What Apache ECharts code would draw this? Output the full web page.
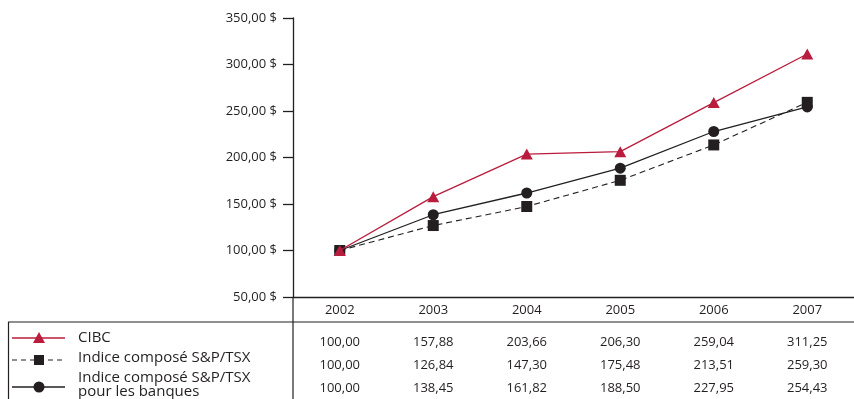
<!DOCTYPE html>
<html><head><meta charset="utf-8">
<script src="https://cdn.jsdelivr.net/npm/echarts@6/dist/echarts.min.js"></script>
<style>html,body{margin:0;padding:0;background:#fff}#c{width:854px;height:399px}</style>
</head><body><div id="c"></div>
<script>
const years = ['2002','2003','2004','2005','2006','2007'];
const cibc = [100.00,157.88,203.66,206.30,259.04,311.25];
const tsx = [100.00,126.84,147.30,175.48,213.51,259.30];
const banks = [100.00,138.45,161.82,188.50,227.95,254.43];
const names = ['CIBC','Indice composé S&P/TSX','Indice composé S&P/TSX\npour les banques'];

const RED = '#b91c3c', BLK = '#231f20', FONT = '"Open Sans", sans-serif';
const fmt = v => v.toFixed(2).replace('.', ',');
const chart = echarts.init(document.getElementById('c'));

function rowAxis(vals, off) {
  return {type:'category', data: vals.map(fmt), position:'bottom', offset: off, gridIndex:0,
    axisLine:{show:false}, axisTick:{show:false}, splitLine:{show:false},
    axisLabel:{margin:7, fontSize:13, color:BLK, fontFamily:FONT}};
}

chart.setOption({
  animation:false,
  grid:{left:293, top:18, width:564, bottom:102},
  xAxis:[
    {type:'category', data:years, boundaryGap:true,
     axisLine:{lineStyle:{color:BLK, width:1.3}}, axisTick:{show:false},
     axisLabel:{margin:7, fontSize:13, color:BLK, fontFamily:FONT}},
    rowAxis(cibc, 32), rowAxis(tsx, 55), rowAxis(banks, 78)
  ],
  yAxis:{type:'value', min:50, max:350, interval:50,
    axisLine:{show:true, lineStyle:{color:BLK, width:1.3}},
    axisTick:{show:true, length:10, lineStyle:{color:BLK, width:1.3}},
    splitLine:{show:false},
    axisLabel:{margin:16, fontSize:13, color:BLK, fontFamily:FONT, formatter: v => fmt(v) + ' $'}},
  series:[
    {name:names[1], type:'line', data:tsx, xAxisIndex:0, symbol:'rect', symbolSize:11,
     lineStyle:{color:BLK, width:1.1, type:[6,4]}, itemStyle:{color:BLK}, z:2},
    {name:names[2], type:'line', data:banks, xAxisIndex:0, symbol:'circle', symbolSize:11,
     lineStyle:{color:BLK, width:1.3}, itemStyle:{color:BLK}, z:3},
    {name:names[0], type:'line', data:cibc, xAxisIndex:0, symbol:'triangle', symbolSize:[12,11],
     lineStyle:{color:RED, width:1.3}, itemStyle:{color:RED}, z:4}
  ],
  graphic:[
    {type:'line', shape:{x1:8,y1:322,x2:854,y2:322}, style:{stroke:BLK, lineWidth:1.2}},
    {type:'line', shape:{x1:293,y1:297,x2:293,y2:399}, style:{stroke:BLK, lineWidth:1.2}},
    {type:'line', shape:{x1:8.5,y1:322,x2:8.5,y2:399}, style:{stroke:BLK, lineWidth:1.2}},
    {type:'line', shape:{x1:12,y1:338,x2:65,y2:338}, style:{stroke:RED, lineWidth:1.3}},
    {type:'polygon', shape:{points:[[39,332],[45,343],[33,343]]}, style:{fill:RED}},
    {type:'line', shape:{x1:12,y1:360,x2:65,y2:360}, style:{stroke:BLK, lineWidth:1.1, lineDash:[5,4]}},
    {type:'rect', shape:{x:34,y:355,width:10,height:10}, style:{fill:BLK}},
    {type:'line', shape:{x1:12,y1:387,x2:65,y2:387}, style:{stroke:BLK, lineWidth:1.3}},
    {type:'circle', shape:{cx:39,cy:387,r:5.5}, style:{fill:BLK}},
    {type:'text', x:78, y:338, style:{text:names[0], fill:BLK, font:'15px '+FONT, verticalAlign:'middle'}},
    {type:'text', x:78, y:358, style:{text:names[1], fill:BLK, font:'15px '+FONT, verticalAlign:'middle'}},
    {type:'text', x:78, y:385, style:{text:names[2], fill:BLK, font:'15px '+FONT, verticalAlign:'middle', lineHeight:14}}
  ]
});
</script></body></html>
